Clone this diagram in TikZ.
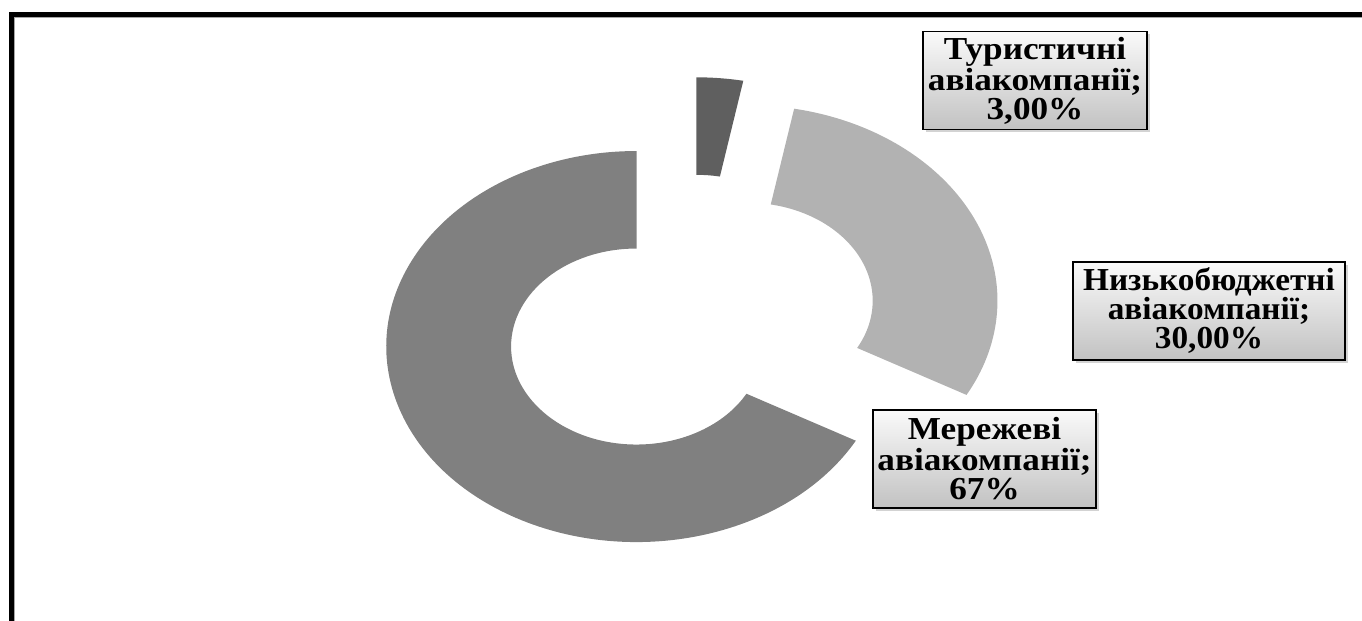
\documentclass[tikz,border=0pt]{standalone}
\usepackage{fontspec}
\setmainfont{Liberation Serif}
\newfontfamily\lblfont[FakeStretch=1.1]{Liberation Serif}
\newfontfamily\lowfont[FakeStretch=1.04]{Liberation Serif}
\usepackage{xcolor}
\usepackage{tikz}
\usetikzlibrary{shadows}

\definecolor{netgray}{HTML}{808080}
\definecolor{lowgray}{HTML}{B2B2B2}
\definecolor{tourgray}{HTML}{5F5F5F}

\begin{document}
\begin{tikzpicture}[
    x=0.5pt, y=0.5pt,
    every node/.style={font=\lblfont\bfseries\fontsize{16}{14.5}\selectfont},
    lbl/.style={draw, line width=0.8pt, align=center, inner sep=0pt,
        minimum height=49pt, top color=gray!4, bottom color=gray!48,
        drop shadow={shadow xshift=1.5pt, shadow yshift=-1.5pt, opacity=0.35}},
    frame/.style={line width=2.5pt, line join=miter}
]
\useasboundingbox (0,0) rectangle (1362,621);

% frame (left and top only)
\draw[gray!70, line width=0.6pt] (14.8,0) -- (14.8,603.5) -- (1362,603.5);
\draw[frame] (11.5,0) -- (11.5,606) -- (1362,606);

% exploded doughnut
\begin{scope}[shift={(690.5,299.4)}, xscale=1.28]
\foreach \a/\b/\col in {90/79.2/tourgray, 79.2/-28.8/lowgray, -28.8/-270/netgray}{
    \pgfmathsetmacro\m{(\a+\b)/2}
    \fill[\col, shift={(\m:49)}] (\a:98) -- (\a:195.5)
        arc[start angle=\a, end angle=\b, radius=195.5] -- (\b:98)
        arc[start angle=\b, end angle=\a, radius=98] -- cycle;
}
\end{scope}

% labels
\node[lbl, minimum width=112pt] (tour) at (1035,540.5) {Туристичні\\авіакомпанії;\\3,00\%};
\node[lbl, minimum width=136pt, font=\lowfont\bfseries\fontsize{16}{14.5}\selectfont] (low) at (1209,310) {Низькобюджетні\\авіакомпанії;\\30,00\%};
\node[lbl, minimum width=111.5pt] (net) at (984.5,162) {Мережеві\\авіакомпанії;\\67\%};
\end{tikzpicture}
\end{document}
